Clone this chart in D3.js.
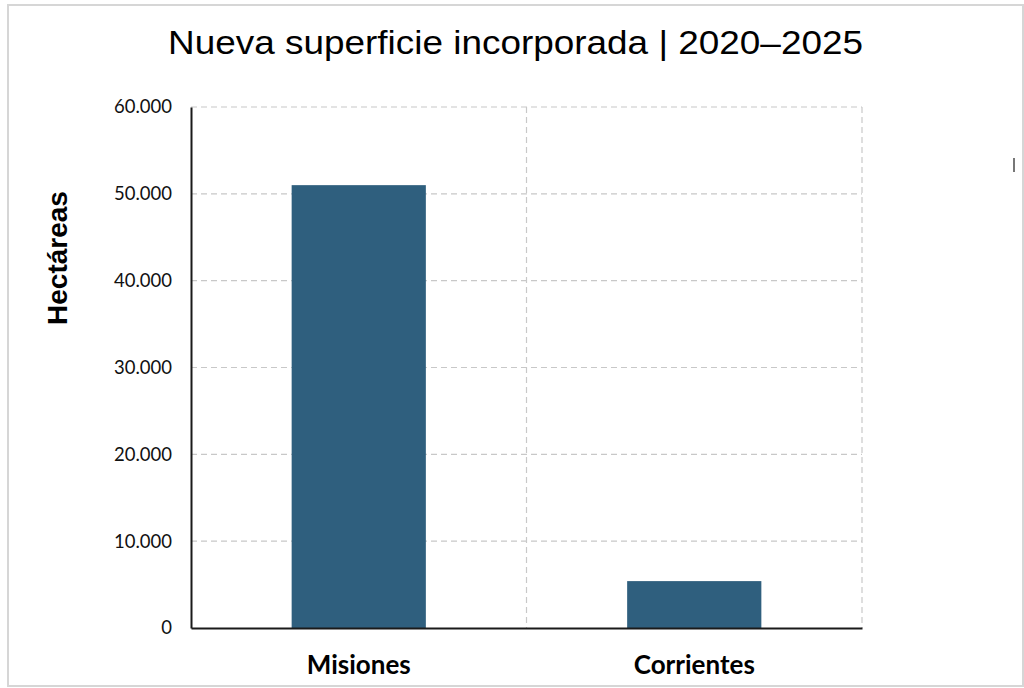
<!DOCTYPE html>
<html>
<head>
<meta charset="utf-8">
<script src="https://cdn.jsdelivr.net/npm/d3@7"></script>
<style>
    body { margin: 0; background: #fff; }
</style>
</head>
<body>
<div id="chart"></div>
<script>
// Nueva superficie incorporada 2020-2025, bar chart
const provinces = ["Misiones", "Corrientes"];
const hectares = [51000, 5400];
const y_ticks = [0, 10000, 20000, 30000, 40000, 50000, 60000];
const y_tick_labels = ["0", "10.000", "20.000", "30.000", "40.000", "50.000", "60.000"];

const width = 1024;
const height = 688;
const margin = { top: 107, right: 162, bottom: 60, left: 191 };
const inner_width = width - margin.left - margin.right;
const inner_height = height - margin.top - margin.bottom;

const svg = d3.select("#chart").append("svg")
    .attr("width", width)
    .attr("height", height)
    .style("display", "block");

// outer frame
svg.append("rect")
    .attr("x", 8).attr("y", 5)
    .attr("width", 1015).attr("height", 681)
    .attr("fill", "#fff")
    .attr("stroke", "#d6d6d6")
    .attr("stroke-width", 2);

svg.append("rect")
    .attr("x", 1013).attr("y", 158)
    .attr("width", 2).attr("height", 14)
    .attr("fill", "#777");

// title is a bit wider than plain Arial in the source, so stretch it
svg.append("text")
    .attr("x", 168)
    .attr("y", 54)
    .attr("textLength", 695)
    .attr("lengthAdjust", "spacingAndGlyphs")
    .style("font-family", "'Liberation Sans', Arial, sans-serif")
    .style("font-size", "33px")
    .style("fill", "#000")
    .text("Nueva superficie incorporada | 2020\u20132025");

const g = svg.append("g")
    .attr("transform", `translate(${margin.left},${margin.top})`);

const x_scale = d3.scaleBand()
    .domain(provinces)
    .range([0, inner_width])
    .paddingInner(0.6)
    .paddingOuter(0.3);

const y_scale = d3.scaleLinear()
    .domain([0, 60000])
    .range([inner_height, 0]);

// horizontal grid
g.append("g")
    .selectAll("line")
    .data(y_ticks.filter(d => d > 0))
    .join("line")
    .attr("x1", 0)
    .attr("x2", inner_width)
    .attr("y1", d => y_scale(d))
    .attr("y2", d => y_scale(d))
    .attr("stroke", "#c8c8c8")
    .attr("stroke-width", 1.2)
    .attr("stroke-dasharray", "6,4");

// vertical grid at category boundaries
const step = x_scale.step();
g.append("g")
    .selectAll("line")
    .data(provinces)
    .join("line")
    .attr("x1", d => x_scale(d) + x_scale.bandwidth() + step * 0.3)
    .attr("x2", d => x_scale(d) + x_scale.bandwidth() + step * 0.3)
    .attr("y1", 0)
    .attr("y2", inner_height)
    .attr("stroke", "#c8c8c8")
    .attr("stroke-width", 1.2)
    .attr("stroke-dasharray", "6,4");

g.selectAll("rect.bar")
    .data(provinces.map((p, i) => ({ province: p, value: hectares[i] })))
    .join("rect")
    .attr("class", "bar")
    .attr("x", d => x_scale(d.province))
    .attr("y", d => y_scale(d.value))
    .attr("width", x_scale.bandwidth())
    .attr("height", d => inner_height - y_scale(d.value))
    .attr("fill", "#2f5f7e");

// y axis
const y_axis_g = g.append("g")
    .call(d3.axisLeft(y_scale)
        .tickValues(y_ticks)
        .tickFormat((d, i) => y_tick_labels[i])
        .tickSize(0)
        .tickPadding(19));

y_axis_g.select(".domain")
    .attr("stroke", "#1a1a1a")
    .attr("stroke-width", 2);

y_axis_g.selectAll("text")
    .style("font-family", "Lato, 'Open Sans', sans-serif")
    .style("font-size", "18.5px")
    .style("fill", "#111");

// x axis
const x_axis_g = g.append("g")
    .attr("transform", `translate(0,${inner_height})`)
    .call(d3.axisBottom(x_scale).tickSize(0).tickPadding(28));

x_axis_g.select(".domain")
    .attr("stroke", "#1a1a1a")
    .attr("stroke-width", 2.2);

x_axis_g.selectAll("text")
    .style("font-family", "Lato, 'Open Sans', sans-serif")
    .style("font-size", "26px")
    .style("font-weight", "bold")
    .style("fill", "#000");

svg.append("text")
    .attr("transform", `translate(67,258) rotate(-90)`)
    .attr("text-anchor", "middle")
    .style("font-family", "'Liberation Sans', Arial, sans-serif")
    .style("font-size", "28px")
    .style("font-weight", "bold")
    .style("fill", "#000")
    .text("Hectáreas");
</script>
</body>
</html>
